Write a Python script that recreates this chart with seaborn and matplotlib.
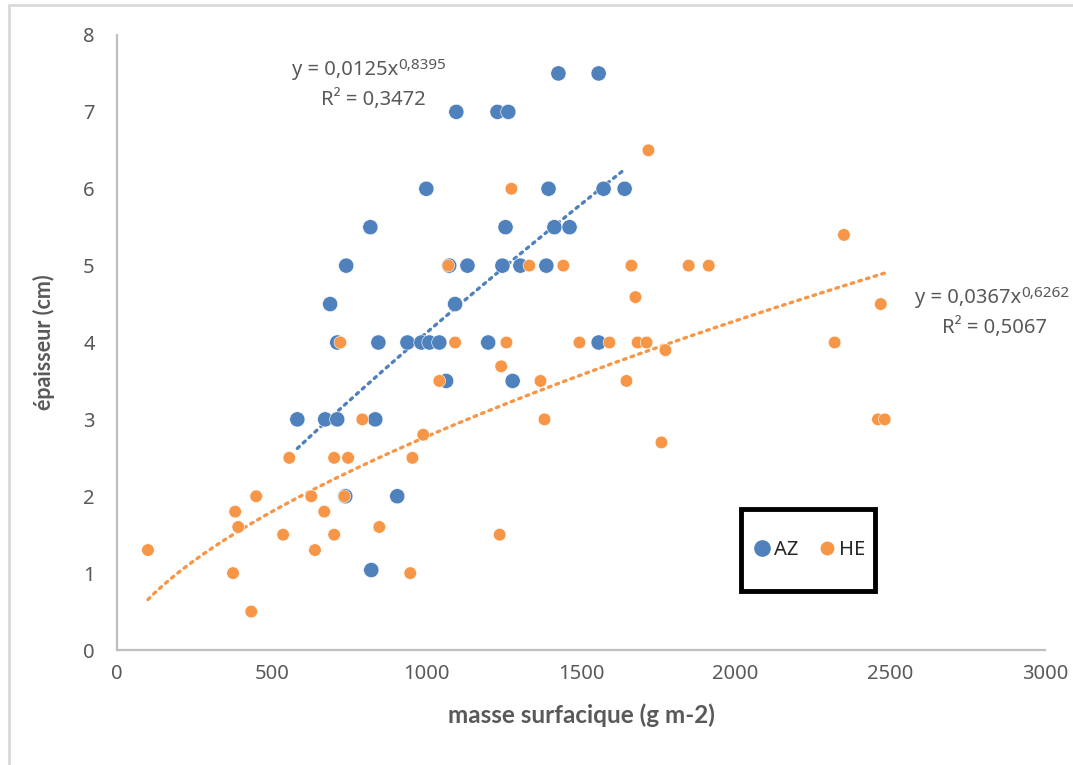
import numpy as np
import pandas as pd
import seaborn as sns
import matplotlib.pyplot as plt
from matplotlib.patches import Rectangle
from matplotlib.lines import Line2D

# AZ points (masse surfacique, epaisseur)
az_x = [1427, 1557, 1097, 1230, 1265, 1000, 1395, 1573, 1641,
        819, 1256, 1414, 1463, 741, 1074, 1133, 1246, 1304, 1388,
        689, 1093, 712, 845, 939, 984, 1010, 1042, 1200, 1557,
        1064, 1279, 583, 673, 712, 835, 738, 906, 822]
az_y = [7.5, 7.5, 7.0, 7.0, 7.0, 6.0, 6.0, 6.0, 6.0,
        5.5, 5.5, 5.5, 5.5, 5.0, 5.0, 5.0, 5.0, 5.0, 5.0,
        4.5, 4.5, 4.0, 4.0, 4.0, 4.0, 4.0, 4.0, 4.0, 4.0,
        3.5, 3.5, 3.0, 3.0, 3.0, 3.0, 2.0, 2.0, 1.04]

# HE points
he_x = [1718, 1275, 2350, 1071, 1333, 1443, 1663, 1848, 1913,
        1676, 2469, 722, 1093, 1259, 1495, 1592, 1683, 1712, 2320,
        1773, 1242, 1042, 1369, 1647, 793, 1382, 2460, 2482,
        990, 1760, 557, 702, 747, 955, 450, 628, 735,
        382, 670, 392, 848, 537, 702, 1237, 100, 640, 375, 948, 434]
he_y = [6.5, 6.0, 5.4, 5.0, 5.0, 5.0, 5.0, 5.0, 5.0,
        4.59, 4.5, 4.0, 4.0, 4.0, 4.0, 4.0, 4.0, 4.0, 4.0,
        3.9, 3.69, 3.5, 3.5, 3.5, 3.0, 3.0, 3.0, 3.0,
        2.8, 2.7, 2.5, 2.5, 2.5, 2.5, 2.0, 2.0, 2.0,
        1.8, 1.8, 1.6, 1.6, 1.5, 1.5, 1.5, 1.3, 1.3, 1.0, 1.0, 0.5]

# power trendlines y = a * x^b (Excel)
az_a, az_b, az_r2 = 0.0125, 0.8395, "0,3472"
he_a, he_b, he_r2 = 0.0367, 0.6262, "0,5067"

blue = "#4F81BD"
orange = "#F79646"
grey = "#595959"

df = pd.DataFrame({
    "masse": az_x + he_x,
    "epaisseur": az_y + he_y,
    "groupe": ["AZ"] * len(az_x) + ["HE"] * len(he_x),
})

sns.set_style("white")
plt.rcParams['font.family'] = ['Noto Sans', 'DejaVu Sans']

fig = plt.figure(figsize=(10.73, 7.65), dpi=100)
ax = fig.add_axes([117 / 1073, 115 / 765, 928 / 1073, 615 / 765])

sns.scatterplot(data=df, x="masse", y="epaisseur", hue="groupe", size="groupe",
                palette={"AZ": blue, "HE": orange}, sizes={"AZ": 120, "HE": 82},
                edgecolor="white", linewidth=0.4, legend=False, ax=ax, zorder=3)

# trendlines
for xs, a, b, col in [(az_x, az_a, az_b, blue), (he_x, he_a, he_b, orange)]:
    xx = np.linspace(min(xs), max(xs), 200)
    ax.plot(xx, a * xx ** b, color=col, lw=2.4, linestyle=(0, (0.8, 1.6)),
            dash_capstyle="round", zorder=2)

ax.set_xlim(0, 3000)
ax.set_ylim(0, 8)
ax.set_xticks(range(0, 3001, 500))
ax.set_yticks(range(0, 9))
ax.tick_params(axis="both", length=0, labelsize=14.5, labelcolor=grey)
ax.tick_params(axis="y", pad=16)
ax.tick_params(axis="x", pad=10)
for s in ["top", "right"]:
    ax.spines[s].set_visible(False)
for s in ["left", "bottom"]:
    ax.spines[s].set_color("#bfbfbf")
    ax.spines[s].set_linewidth(1.6)

lab_font = dict(family=['Lato', 'DejaVu Sans'], fontweight="bold", color=grey)
ax.set_xlabel("masse surfacique (g m-2)", labelpad=14, fontsize=17.5, **lab_font)
ax.set_ylabel("épaisseur (cm)", labelpad=20, fontsize=15.5, **lab_font)

# equations
def equation(x, y, a_txt, exp_txt, r2_txt, r2_x):
    t = ax.text(x, y, "y = " + a_txt + "x", fontsize=14.5, color=grey,
                ha="left", va="center")
    ax.annotate(exp_txt, xy=(1.0, 0.72), xycoords=t, fontsize=11, color=grey,
                ha="left", va="center")
    ax.text(r2_x, y - 0.38, "R² = " + r2_txt, fontsize=14.5, color=grey,
            ha="center", va="center")

equation(565, 7.54, "0,0125", "0,8395", az_r2, 828)
equation(2580, 4.58, "0,0367", "0,6262", he_r2, 2838)
for t in ax.texts:
    t.set_clip_on(False)

# legend with boxed frame
handles = [Line2D([], [], marker="o", ls="", color=blue, markersize=11),
           Line2D([], [], marker="o", ls="", color=orange, markersize=9)]
ax.legend(handles, ["AZ", "HE"], ncol=2, loc="center", bbox_to_anchor=(0.745, 0.163),
          frameon=False, fontsize=14.5, handletextpad=0.1, columnspacing=0.9,
          handlelength=1.0)
ax.add_patch(Rectangle((0.672, 0.096), 0.145, 0.133, transform=ax.transAxes,
                       fill=False, edgecolor="black", lw=3.5, zorder=5))

# chart frame
fig.add_artist(Rectangle((9 / 1073, -0.1), 1.2, 1.1 - 5 / 765, transform=fig.transFigure,
                         fill=False, edgecolor="#d9d9d9", lw=2))

fig.savefig("out.png", dpi=100)
